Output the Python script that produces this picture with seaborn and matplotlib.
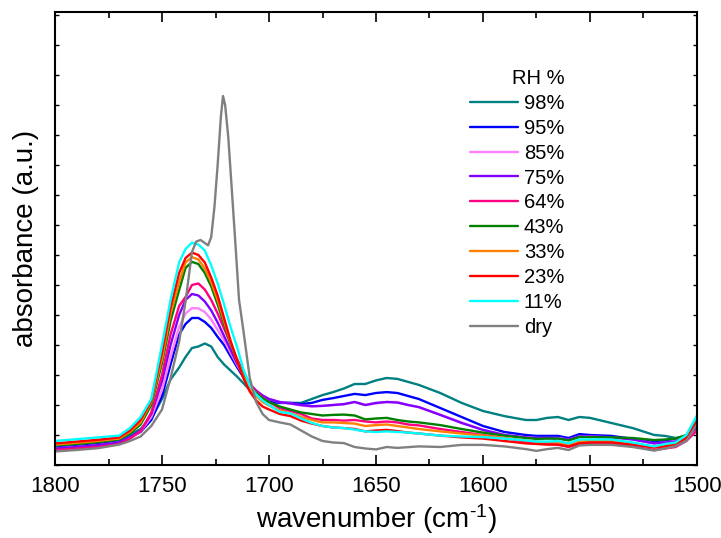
import numpy as np
import pandas as pd
import seaborn as sns
import matplotlib.pyplot as plt
from matplotlib.ticker import MultipleLocator

# wavenumber grid shared by the humid spectra (cm-1)
wn = [1800, 1790, 1780, 1770, 1765, 1760, 1755, 1750, 1746, 1742, 1739, 1736, 1733, 1730,
      1727, 1724, 1721, 1718, 1715, 1712, 1709, 1706, 1703, 1700, 1695, 1690, 1685, 1680,
      1675, 1670, 1665, 1660, 1655, 1650, 1645, 1640, 1635, 1630, 1620, 1610, 1600, 1590,
      1580, 1575, 1570, 1565, 1560, 1555, 1550, 1540, 1530, 1520, 1515, 1510, 1505, 1500]

rh98 = [0.65, 0.72, 0.78, 0.85, 1.0, 1.2, 1.55, 2.2, 2.85, 3.25, 3.6, 3.9, 3.95, 4.05,
        3.95, 3.6, 3.35, 3.15, 2.95, 2.73, 2.5, 2.33, 2.2, 2.1, 2.07, 2.07, 2.07, 2.2,
        2.33, 2.43, 2.55, 2.7, 2.7, 2.82, 2.9, 2.87, 2.77, 2.67, 2.4, 2.07, 1.8, 1.63,
        1.5, 1.5, 1.57, 1.6, 1.5, 1.6, 1.57, 1.4, 1.23, 1.0, 0.97, 0.9, 0.97, 1.6]
rh95 = [0.58, 0.63, 0.7, 0.78, 0.92, 1.1, 1.5, 2.3, 3.35, 4.35, 4.7, 4.9, 4.9, 4.77,
        4.57, 4.27, 4.0, 3.63, 3.27, 2.93, 2.6, 2.4, 2.23, 2.13, 2.07, 2.07, 2.03, 2.07,
        2.17, 2.23, 2.3, 2.37, 2.33, 2.4, 2.43, 2.4, 2.3, 2.2, 1.9, 1.6, 1.3, 1.1,
        1.0, 0.97, 0.97, 0.97, 0.9, 1.03, 1.0, 0.97, 0.87, 0.77, 0.8, 0.83, 0.97, 1.35]
rh85 = [0.55, 0.6, 0.66, 0.75, 0.9, 1.12, 1.6, 2.5, 3.6, 4.6, 5.05, 5.23, 5.22, 5.1,
        4.85, 4.5, 4.15, 3.75, 3.35, 3.0, 2.65, 2.45, 2.3, 2.2, 2.1, 2.05, 1.98, 1.95,
        1.97, 2.0, 2.02, 2.1, 2.0, 2.05, 2.1, 2.1, 2.0, 1.93, 1.68, 1.42, 1.17, 1.0,
        0.92, 0.9, 0.9, 0.9, 0.85, 0.95, 0.95, 0.92, 0.85, 0.72, 0.75, 0.8, 0.95, 1.3]
rh75 = [0.55, 0.6, 0.66, 0.75, 0.92, 1.15, 1.7, 2.8, 4.0, 5.0, 5.5, 5.7, 5.65, 5.45,
        5.15, 4.75, 4.3, 3.85, 3.4, 3.05, 2.7, 2.48, 2.32, 2.2, 2.1, 2.05, 2.0, 1.96,
        1.97, 2.0, 2.03, 2.1, 2.0, 2.07, 2.1, 2.08, 2.0, 1.93, 1.67, 1.4, 1.17, 1.0,
        0.92, 0.9, 0.9, 0.88, 0.85, 0.95, 0.95, 0.92, 0.85, 0.72, 0.75, 0.78, 0.92, 1.25]
rh64 = [0.5, 0.55, 0.6, 0.7, 0.88, 1.12, 1.75, 3.0, 4.35, 5.3, 5.6, 6.0, 6.05, 5.85,
        5.5, 5.05, 4.55, 4.05, 3.55, 3.1, 2.7, 2.45, 2.25, 2.1, 1.9, 1.8, 1.7, 1.55,
        1.5, 1.5, 1.48, 1.5, 1.45, 1.42, 1.45, 1.42, 1.35, 1.32, 1.2, 1.1, 1.0, 0.9,
        0.78, 0.72, 0.7, 0.68, 0.6, 0.7, 0.72, 0.72, 0.62, 0.5, 0.55, 0.6, 0.8, 1.15]
rh43 = [0.65, 0.7, 0.76, 0.85, 1.05, 1.35, 2.0, 3.4, 4.8, 5.83, 6.57, 6.77, 6.7, 6.4,
        5.95, 5.35, 4.7, 4.05, 3.5, 3.0, 2.62, 2.4, 2.22, 2.1, 1.95, 1.85, 1.75, 1.7,
        1.65, 1.67, 1.68, 1.65, 1.52, 1.55, 1.57, 1.5, 1.45, 1.42, 1.33, 1.2, 1.08, 0.98,
        0.9, 0.87, 0.88, 0.88, 0.82, 0.93, 0.93, 0.92, 0.9, 0.83, 0.85, 0.88, 1.0, 1.35]
rh33 = [0.68, 0.74, 0.8, 0.88, 1.1, 1.42, 2.1, 3.55, 5.05, 6.1, 6.75, 6.93, 6.85, 6.55,
        6.1, 5.5, 4.8, 4.1, 3.5, 2.95, 2.55, 2.3, 2.1, 1.98, 1.82, 1.72, 1.6, 1.5,
        1.42, 1.42, 1.4, 1.38, 1.3, 1.33, 1.35, 1.3, 1.25, 1.2, 1.12, 1.05, 0.98, 0.9,
        0.82, 0.78, 0.76, 0.76, 0.68, 0.78, 0.8, 0.8, 0.72, 0.6, 0.65, 0.7, 0.92, 1.4]
rh23 = [0.72, 0.78, 0.84, 0.92, 1.15, 1.5, 2.15, 3.75, 5.25, 6.4, 6.9, 7.08, 7.0, 6.75,
        6.25, 5.65, 4.9, 4.15, 3.5, 2.9, 2.45, 2.15, 1.95, 1.85, 1.7, 1.63, 1.48, 1.38,
        1.3, 1.25, 1.23, 1.2, 1.12, 1.15, 1.17, 1.13, 1.08, 1.05, 0.98, 0.92, 0.88, 0.8,
        0.72, 0.7, 0.68, 0.68, 0.62, 0.72, 0.75, 0.75, 0.68, 0.58, 0.62, 0.68, 0.9, 1.45]
rh11 = [0.8, 0.86, 0.92, 0.98, 1.23, 1.6, 2.2, 4.0, 5.5, 6.75, 7.2, 7.41, 7.35, 7.15,
        6.65, 6.05, 5.35, 4.6, 3.95, 3.2, 2.65, 2.35, 2.15, 2.0, 1.77, 1.72, 1.55, 1.4,
        1.3, 1.25, 1.23, 1.18, 1.12, 1.1, 1.12, 1.1, 1.08, 1.05, 0.98, 0.95, 0.93, 0.88,
        0.82, 0.78, 0.78, 0.8, 0.72, 0.85, 0.85, 0.85, 0.75, 0.62, 0.7, 0.75, 1.0, 1.65]

# dry spectrum has its own, denser grid around the sharp 1721 band
wn_dry = [1800, 1790, 1780, 1770, 1765, 1760, 1755, 1750, 1746, 1742, 1739, 1736, 1734,
          1732, 1730, 1728.5, 1727, 1725.5, 1724, 1722.5, 1721.5, 1720.5, 1719, 1717.5,
          1716, 1714, 1712, 1709, 1706, 1703, 1700, 1695, 1690, 1685, 1680, 1675, 1670,
          1665, 1660, 1655, 1650, 1645, 1640, 1630, 1620, 1610, 1600, 1590, 1580, 1575,
          1570, 1565, 1560, 1555, 1550, 1540, 1530, 1520, 1515, 1510, 1505, 1500]
dry = [0.45, 0.5, 0.56, 0.68, 0.8, 0.95, 1.3, 1.85, 2.9, 4.1, 5.45, 7.1, 7.45,
       7.5, 7.4, 7.32, 7.6, 8.6, 10.0, 11.6, 12.3, 12.0, 10.9, 9.3,
       7.7, 5.5, 4.5, 2.9, 2.1, 1.7, 1.5, 1.42, 1.35, 1.15, 0.95, 0.8, 0.75,
       0.73, 0.6, 0.55, 0.52, 0.6, 0.57, 0.62, 0.6, 0.67, 0.67, 0.62, 0.53, 0.47,
       0.53, 0.57, 0.5, 0.65, 0.67, 0.67, 0.6, 0.48, 0.55, 0.63, 0.8, 1.35]

labels = ['98%', '95%', '85%', '75%', '64%', '43%', '33%', '23%', '11%', 'dry']
colors = ['#008080', '#0000FF', '#FF80FF', '#8000FF', '#FF0080',
          '#008000', '#FF8000', '#FF0000', '#00FFFF', '#808080']

series = [rh98, rh95, rh85, rh75, rh64, rh43, rh33, rh23, rh11]
frames = [pd.DataFrame({'wavenumber': wn, 'absorbance': s, 'RH': lab})
          for s, lab in zip(series, labels[:-1])]
frames.append(pd.DataFrame({'wavenumber': wn_dry, 'absorbance': dry, 'RH': 'dry'}))
df = pd.concat(frames, ignore_index=True)

sns.set_style('ticks')
plt.rcParams['font.family'] = ['Liberation Sans', 'DejaVu Sans']
plt.rcParams['mathtext.fontset'] = 'custom'
plt.rcParams['mathtext.rm'] = 'Liberation Sans'
plt.rcParams['mathtext.it'] = 'Liberation Sans'
plt.rcParams['text.color'] = 'black'
plt.rcParams['axes.labelcolor'] = 'black'
plt.rcParams['xtick.color'] = 'black'
plt.rcParams['ytick.color'] = 'black'

fig = plt.figure(figsize=(7.21, 5.38), dpi=100)
ax = fig.add_axes([0.0763, 0.1357, 0.8904, 0.8420])

sns.lineplot(data=df, x='wavenumber', y='absorbance', hue='RH', hue_order=labels,
             palette=dict(zip(labels, colors)), sort=False, estimator=None,
             linewidth=1.7, ax=ax)

ax.set_xlim(1800, 1500)
ax.set_ylim(0, 15.1)
ax.xaxis.set_major_locator(MultipleLocator(50))
ax.xaxis.set_minor_locator(MultipleLocator(25))
ax.yaxis.set_major_locator(MultipleLocator(1))
ax.set_yticklabels([])
ax.tick_params(axis='x', which='major', direction='in', length=7, width=1.2,
               top=True, labelsize=16, pad=8)
ax.tick_params(axis='x', which='minor', direction='in', length=4, width=1.2, top=True)
ax.tick_params(axis='y', which='major', direction='in', length=3, width=1,
               left=True, right=True)
for sp in ax.spines.values():
    sp.set_linewidth(1.5)
    sp.set_color('black')

ax.set_xlabel(r'wavenumber (cm$^{\text{-1}}$)', fontsize=20, labelpad=4)
ax.set_ylabel('absorbance (a.u.)', fontsize=20, labelpad=8)

handles, labs = ax.get_legend_handles_labels()
ax.legend(handles, labs, title='RH %', frameon=False, fontsize=14.5,
          title_fontsize=14.5, loc='upper left', bbox_to_anchor=(0.630, 0.896),
          borderpad=0, handlelength=2.4, handletextpad=0.3, labelspacing=0.29,
          alignment='right')

fig.savefig('out.png', dpi=100)
